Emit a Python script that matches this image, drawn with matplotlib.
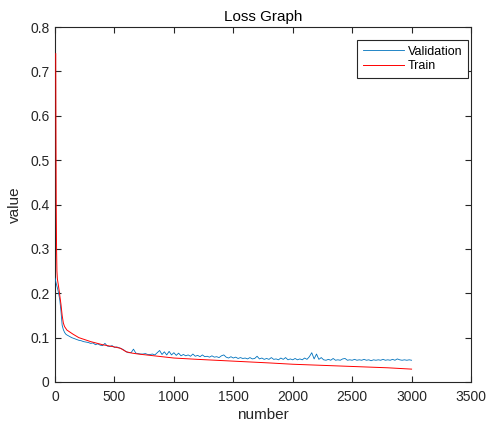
import matplotlib
matplotlib.use("Agg")
import matplotlib.pyplot as plt

plt.rcParams['font.family'] = ['Liberation Sans', 'DejaVu Sans']

# ---- data ----
train_epoch = [6, 8, 10, 13, 16, 20, 30, 40, 50, 60, 70, 80, 100, 150, 200, 300,
               400, 500, 550, 600, 650, 700, 800, 1000, 1200, 1500, 1800, 2000,
               2200, 2500, 2800, 3000]
train_loss = [0.74, 0.55, 0.40, 0.30, 0.25, 0.232, 0.215, 0.195, 0.175, 0.15,
              0.133, 0.125, 0.117, 0.108, 0.100, 0.091, 0.084, 0.079, 0.076,
              0.068, 0.065, 0.063, 0.060, 0.054, 0.051, 0.047, 0.043, 0.040,
              0.038, 0.035, 0.032, 0.029]

val_epoch = [0, 10, 20, 30, 40, 50, 60, 70, 80, 90, 100] + list(range(120, 3001, 20))
val_loss = [0.234, 0.222, 0.212, 0.200, 0.185, 0.160, 0.128, 0.118, 0.112, 0.108, 0.106,
            0.103, 0.100, 0.098, 0.096, 0.094, 0.093, 0.091, 0.090, 0.089, 0.087,
            0.088, 0.084, 0.086, 0.083, 0.082, 0.087, 0.081, 0.080, 0.082, 0.078,
            0.079, 0.077, 0.075, 0.072, 0.068, 0.066, 0.066, 0.074, 0.065, 0.064,
            0.063, 0.063, 0.064, 0.062, 0.062, 0.063, 0.061, 0.066, 0.071, 0.062,
            0.068, 0.061, 0.069, 0.061, 0.066, 0.060, 0.065, 0.059, 0.062, 0.059,
            0.061, 0.058, 0.063, 0.058, 0.060, 0.057, 0.061, 0.057, 0.058, 0.056,
            0.059, 0.056, 0.057, 0.055, 0.059, 0.061, 0.056, 0.054, 0.057, 0.054,
            0.056, 0.053, 0.055, 0.053, 0.054, 0.052, 0.055, 0.052, 0.053, 0.058,
            0.052, 0.054, 0.051, 0.053, 0.051, 0.055, 0.051, 0.052, 0.050, 0.054,
            0.051, 0.055, 0.050, 0.052, 0.050, 0.053, 0.050, 0.052, 0.050, 0.054,
            0.051, 0.057, 0.066, 0.052, 0.063, 0.051, 0.055, 0.050, 0.049, 0.051,
            0.049, 0.053, 0.049, 0.050, 0.049, 0.052, 0.053, 0.049, 0.050, 0.049,
            0.051, 0.049, 0.050, 0.049, 0.051, 0.049, 0.050, 0.048, 0.050, 0.049,
            0.050, 0.049, 0.051, 0.049, 0.050, 0.049, 0.051, 0.049, 0.052, 0.050,
            0.049, 0.050, 0.049, 0.050, 0.049]

x_ticks = [0, 500, 1000, 1500, 2000, 2500, 3000, 3500]
y_ticks = [0, 0.1, 0.2, 0.3, 0.4, 0.5, 0.6, 0.7, 0.8]

# ---- figure ----
fig = plt.figure(figsize=(4.93, 4.26), dpi=100)
ax = fig.add_axes([0.1116, 0.1033, 0.8438, 0.8333])

ax.plot(val_epoch, val_loss, color='#0072BD', lw=0.6, label='Validation', zorder=3)
ax.plot(train_epoch, train_loss, color='#FF0000', lw=0.7, label='Train', zorder=3)

ax.set_xlim(0, 3500)
ax.set_ylim(0, 0.8)
ax.set_xticks(x_ticks)
ax.set_yticks(y_ticks)
ax.set_xticklabels([str(t) for t in x_ticks])
ax.set_yticklabels(['0'] + [f'{t:.1f}' for t in y_ticks[1:]])

axis_col = '#262626'
for s in ax.spines.values():
    s.set_color(axis_col)
    s.set_linewidth(0.8)
ax.tick_params(axis='both', direction='in', length=4, width=0.8, color=axis_col,
               labelcolor=axis_col, labelsize=10, top=True, right=True)
ax.tick_params(axis='x', pad=6)
ax.tick_params(axis='y', pad=4)

ax.set_title('Loss Graph', fontsize=11, color='black', pad=4)
ax.set_xlabel('number', fontsize=11, color=axis_col, labelpad=3)
ax.set_ylabel('value', fontsize=11, color=axis_col, labelpad=6)

leg = ax.legend(loc='upper right', bbox_to_anchor=(0.9928, 0.9634),
                fontsize=9, frameon=True, fancybox=False,
                edgecolor=axis_col, framealpha=1, borderpad=0.45,
                handlelength=3.3, handletextpad=0.3, labelspacing=0.2,
                borderaxespad=0.0)
leg.get_frame().set_linewidth(0.8)

fig.savefig('out.png', dpi=100)
